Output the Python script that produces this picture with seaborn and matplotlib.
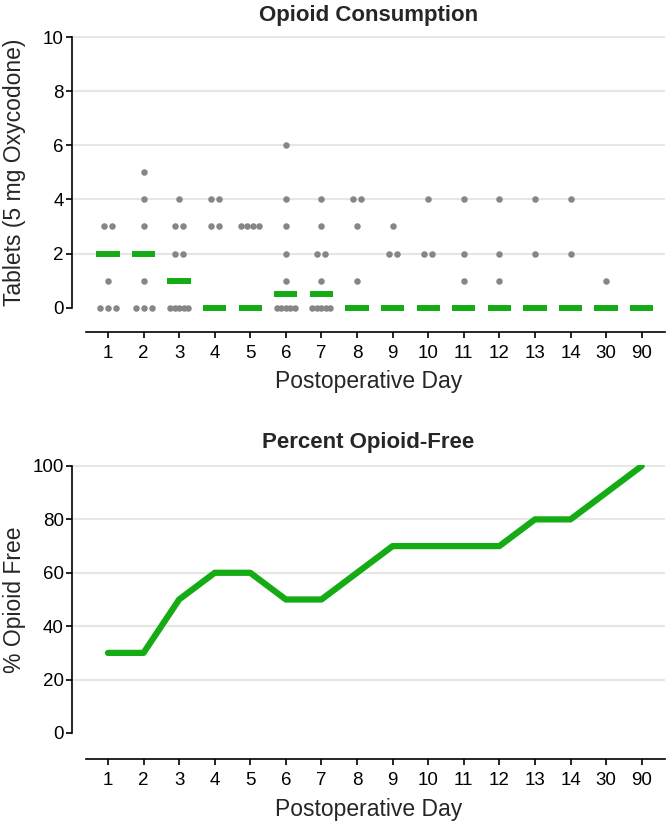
import numpy as np
import pandas as pd
import matplotlib
matplotlib.use("Agg")
import matplotlib.pyplot as plt
import seaborn as sns

# data
days = ["1", "2", "3", "4", "5", "6", "7", "8", "9", "10", "11", "12", "13", "14", "30", "90"]

tablets = [
    [3, 3, 1, 0, 0, 0],                 # day 1
    [5, 4, 3, 1, 0, 0, 0],              # day 2
    [4, 3, 3, 2, 2, 0, 0, 0, 0, 0],     # day 3
    [4, 4, 3, 3],                       # day 4
    [3, 3, 3, 3],                       # day 5
    [6, 4, 3, 2, 1, 0, 0, 0, 0, 0],     # day 6
    [4, 3, 2, 2, 1, 0, 0, 0, 0, 0],     # day 7
    [4, 4, 3, 1],                       # day 8
    [3, 2, 2],                          # day 9
    [4, 2, 2],                          # day 10
    [4, 2, 1],                          # day 11
    [4, 2, 1],                          # day 12
    [4, 2],                             # day 13
    [4, 2],                             # day 14
    [1],                                # day 30
    [],                                 # day 90
]
medians = [2, 2, 1, 0, 0, 0.5, 0.5, 0, 0, 0, 0, 0, 0, 0, 0, 0]
pct_free = [30, 30, 50, 60, 60, 50, 50, 60, 70, 70, 70, 70, 80, 80, 90, 100]

GREEN = "#15ab15"
GREY = "#868686"
GRID = "#e6e6e6"

sns.set_style("ticks")
plt.rcParams["font.family"] = ["Liberation Sans", "DejaVu Sans"]

W, H = 669, 826
PX_PER_DAY = 35.58


def dot_table():
    # spread equal values sideways, squeezing when there are many
    rows = []
    for i, vals in enumerate(tablets):
        for v in sorted(set(vals)):
            n = vals.count(v)
            step = min(8.0, 18.0 / (n - 1)) if n > 1 else 0.0
            for k in range(n):
                off = (k - (n - 1) / 2) * step / PX_PER_DAY
                rows.append({"x": i + off, "tablets": v})
    return pd.DataFrame(rows)


def style_axis(ax, ymax, ytop, ybottom, yticks):
    ax.set_xlim(-1.01, 15.655)
    ax.set_ylim(ybottom, ytop)
    ax.set_xticks(range(len(days)))
    ax.set_xticklabels(days)
    ax.set_yticks(yticks)
    ax.set_axisbelow(True)
    ax.yaxis.grid(True, color=GRID, lw=1.5)
    for gl, t in zip(ax.yaxis.get_gridlines(), yticks):
        if t == 0:
            gl.set_visible(False)
    for s in ["top", "right"]:
        ax.spines[s].set_visible(False)
    ax.spines["left"].set_bounds(0, ymax)
    ax.spines["bottom"].set_bounds(-0.62, 15.655)
    for s in ["left", "bottom"]:
        ax.spines[s].set_linewidth(1.2)
        ax.spines[s].set_color("black")
    ax.tick_params(axis="both", length=4, width=1.2, labelsize=13.5,
                   colors="black", pad=2)
    ax.tick_params(axis="x", pad=5.5)
    ax.set_xlabel("Postoperative Day", fontsize=16.5, labelpad=6)


fig = plt.figure(figsize=(W / 100, H / 100), dpi=100)
ax1 = fig.add_axes([72 / W, 1 - 331.7 / H, 593 / W, (331.7 - 36) / H])
ax2 = fig.add_axes([72 / W, 1 - 759 / H, 593 / W, (759 - 465) / H])

# top: individual tablets + median bars
dots = dot_table()
sns.scatterplot(data=dots, x="x", y="tablets", ax=ax1, color=GREY,
                s=22, linewidth=0, zorder=2, clip_on=False)
bars = ax1.hlines(medians, np.arange(len(days)) - 0.327,
                  np.arange(len(days)) + 0.327, color=GREEN, lw=4.3, zorder=3)
bars.set_capstyle("butt")
style_axis(ax1, 10, 10.037, -0.887, [0, 2, 4, 6, 8, 10])
ax1.set_ylabel("Tablets (5 mg Oxycodone)", fontsize=16.5)
ax1.yaxis.set_label_coords(-0.078, (10 / 2 - (-0.887)) / (10.037 + 0.887))
ax1.set_title("Opioid Consumption", fontsize=16, fontweight="bold", pad=11)

# bottom: percent opioid-free
line_df = pd.DataFrame({"x": range(len(days)), "pct": pct_free})
sns.lineplot(data=line_df, x="x", y="pct", ax=ax2, color=GREEN, lw=4.5,
             solid_capstyle="round", solid_joinstyle="round")
style_axis(ax2, 100, 100.37, -9.74, [0, 20, 40, 60, 80, 100])
ax2.set_ylabel("% Opioid Free", fontsize=16.5)
ax2.yaxis.set_label_coords(-0.078, (50 + 9.74) / (100.37 + 9.74))
ax2.set_title("Percent Opioid-Free", fontsize=16, fontweight="bold", pad=12)

fig.savefig("out.png", dpi=100)
